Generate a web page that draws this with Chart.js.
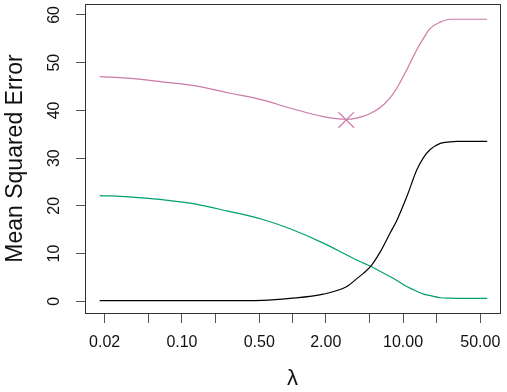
<!DOCTYPE html>
<html>
<head>
<meta charset="utf-8">
<script src="https://cdn.jsdelivr.net/npm/chart.js@4/dist/chart.umd.min.js"></script>
<style>
	body { margin: 0; background: #fff; }
</style>
</head>
<body>
<canvas id="myChart" width="507" height="392"></canvas>
<script>
var lambdaVals = [0.018, 0.033, 0.066, 0.13, 0.26, 0.53, 0.95, 1.9, 3.1, 3.8, 4.4, 5.2, 6.2, 7.6, 8.8, 10.8, 13.3, 15.3, 17.6, 21.7, 26.7, 30.7, 57.7];
var biasVals = [0.13, 0.13, 0.13, 0.13, 0.13, 0.2, 0.6, 1.5, 3.1, 4.7, 5.9, 7.6, 10.3, 14.2, 17.0, 21.9, 27.5, 30.1, 31.8, 33.1, 33.4, 33.5, 33.5];
var varianceVals = [22.15, 21.9, 21.3, 20.4, 18.9, 17.2, 15.2, 12.2, 9.7, 8.65, 8.0, 7.25, 6.3, 5.2, 4.35, 3.1, 2.1, 1.5, 1.2, 0.75, 0.65, 0.63, 0.63];
var testMseVals = [47.1, 46.75, 46.0, 45.2, 43.7, 42.2, 40.5, 38.7, 38.15, 38.4, 38.8, 39.5, 40.6, 42.6, 44.7, 48.5, 52.7, 55.1, 57.2, 58.5, 59.1, 59.1, 59.1];
var minPoint = [{x: 3.06, y: 38.0}];

var xTicks = [0.02, 0.05, 0.1, 0.2, 0.5, 1, 2, 5, 10, 20, 50];
var xLabels = {0.02: "0.02", 0.1: "0.10", 0.5: "0.50", 2: "2.00", 10: "10.00", 50: "50.00"};
var yTicks = [0, 10, 20, 30, 40, 50, 60];

var font = "'Liberation Sans', Arial, Helvetica, sans-serif";

function toPoints(vals) {
	var pts = [];
	for (var i = 0; i < lambdaVals.length; i++) {
		pts.push({x: lambdaVals[i], y: vals[i]});
	}
	return pts;
}

function lineSet(vals, color) {
	return {
		data: toPoints(vals),
		borderColor: color,
		borderWidth: 1.2,
		pointRadius: 0,
		fill: false,
		cubicInterpolationMode: 'monotone'
	};
}

// box around the plot + rotated y labels (R style)
var framePlugin = {
	id: 'frame',
	afterDraw: function(chart) {
		var ctx = chart.ctx;
		var a = chart.chartArea;
		ctx.save();
		ctx.strokeStyle = '#333';
		ctx.lineWidth = 1;
		ctx.strokeRect(Math.round(a.left) + 0.5, Math.round(a.top) + 0.5,
			Math.round(a.right - a.left), Math.round(a.bottom - a.top));
		var ys = chart.scales.y;
		ctx.fillStyle = '#111';
		ctx.font = '16px ' + font;
		ctx.textAlign = 'center';
		ctx.textBaseline = 'middle';
		for (var i = 0; i < yTicks.length; i++) {
			ctx.save();
			ctx.translate(55, ys.getPixelForValue(yTicks[i]));
			ctx.rotate(-Math.PI / 2);
			ctx.fillText(String(yTicks[i]), 0, 0);
			ctx.restore();
		}
		ctx.restore();
	}
};

function noPad(scale) {
	scale.paddingLeft = 0;
	scale.paddingRight = 0;
	scale.paddingTop = 0;
	scale.paddingBottom = 0;
}

var ctx = document.getElementById("myChart");
var myChart = new Chart(ctx, {
	type: 'line',
	data: {
		datasets: [
			lineSet(biasVals, '#000000'),
			lineSet(varianceVals, '#009E73'),
			lineSet(testMseVals, '#CC79A7'),
			{
				data: minPoint,
				showLine: false,
				pointStyle: 'crossRot',
				pointRadius: 11,
				pointBorderWidth: 1.2,
				borderColor: '#CC79A7',
				pointBorderColor: '#CC79A7'
			}
		]
	},
	options: {
		responsive: false,
		animation: false,
		devicePixelRatio: 1,
		layout: { autoPadding: false, padding: { top: 4, right: 7, left: 0, bottom: 0 } },
		plugins: {
			legend: { display: false },
			tooltip: { enabled: false }
		},
		scales: {
			x: {
				type: 'logarithmic',
				min: Math.pow(10, -1.877),
				max: Math.pow(10, 1.877),
				afterBuildTicks: function(scale) {
					scale.ticks = xTicks.map(function(v) { return {value: v}; });
				},
				afterFit: function(scale) {
					scale.height = 79;
					noPad(scale);
				},
				grid: { drawOnChartArea: false, drawTicks: true, tickLength: 10, color: '#555', tickWidth: 1 },
				border: { display: true, color: '#333' },
				ticks: {
					autoSkip: false,
					maxRotation: 0,
					minRotation: 0,
					padding: 10,
					color: '#111',
					font: { size: 16, family: font },
					callback: function(value) {
						return xLabels[value] || '';
					}
				},
				title: {
					display: true,
					text: 'λ',
					color: '#111',
					font: { size: 22, family: font },
					padding: { top: 0, bottom: 0 }
				}
			},
			y: {
				type: 'linear',
				min: -2.45,
				max: 62.3,
				afterBuildTicks: function(scale) {
					scale.ticks = yTicks.map(function(v) { return {value: v}; });
				},
				afterFit: function(scale) {
					scale.width = 85;
					noPad(scale);
				},
				grid: { drawOnChartArea: false, drawTicks: true, tickLength: 9, color: '#555', tickWidth: 1 },
				border: { display: true, color: '#333' },
				ticks: {
					color: 'rgba(0,0,0,0)',
					font: { size: 16, family: font }
				},
				title: {
					display: true,
					text: 'Mean Squared Error',
					color: '#111',
					font: { size: 23, family: font },
					padding: { top: 2, bottom: 0 }
				}
			}
		}
	},
	plugins: [framePlugin]
});
</script>
</body>
</html>
